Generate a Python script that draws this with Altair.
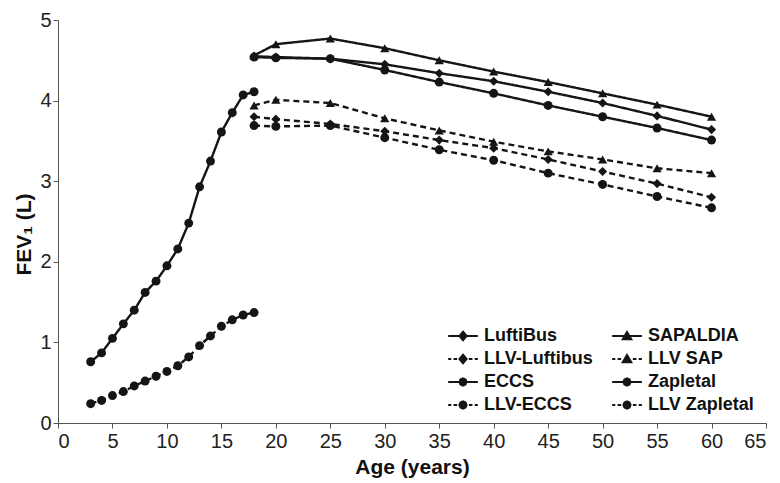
import altair as alt
import pandas as pd

# Child reference (Zapletal) ages and adult reference ages
child_ages = list(range(3, 19))
adult_ages = [18, 20, 25, 30, 35, 40, 45, 50, 55, 60]

# FEV1 (L) by series
zapletal = [0.76, 0.87, 1.05, 1.23, 1.40, 1.62, 1.76, 1.95, 2.16, 2.48, 2.93, 3.25, 3.61, 3.85, 4.07, 4.11]
llv_zapletal = [0.24, 0.28, 0.34, 0.39, 0.46, 0.52, 0.58, 0.64, 0.71, 0.82, 0.96, 1.08, 1.20, 1.28, 1.34, 1.37]
sapaldia = [4.56, 4.70, 4.77, 4.65, 4.50, 4.36, 4.23, 4.09, 3.95, 3.80]
luftibus = [4.55, 4.54, 4.52, 4.45, 4.34, 4.24, 4.11, 3.97, 3.81, 3.64]
eccs = [4.54, 4.53, 4.52, 4.38, 4.23, 4.09, 3.94, 3.80, 3.66, 3.51]
llv_sap = [3.94, 4.01, 3.97, 3.78, 3.63, 3.49, 3.37, 3.27, 3.16, 3.10]
llv_luftibus = [3.80, 3.77, 3.71, 3.62, 3.51, 3.41, 3.27, 3.12, 2.97, 2.80]
llv_eccs = [3.69, 3.68, 3.69, 3.54, 3.39, 3.26, 3.10, 2.96, 2.81, 2.67]

# name, ages, values, marker, line style (also the legend order, filled column by column)
series = [
    ("LuftiBus", adult_ages, luftibus, "diamond", "solid"),
    ("LLV-Luftibus", adult_ages, llv_luftibus, "diamond", "dashed"),
    ("ECCS", adult_ages, eccs, "circle", "solid"),
    ("LLV-ECCS", adult_ages, llv_eccs, "circle", "dashed"),
    ("SAPALDIA", adult_ages, sapaldia, "triangle-up", "solid"),
    ("LLV SAP", adult_ages, llv_sap, "triangle-up", "dashed"),
    ("Zapletal", child_ages, zapletal, "circle", "solid"),
    ("LLV Zapletal", child_ages, llv_zapletal, "circle", "dashed"),
]

rows = []
for name, ages, vals, marker, style in series:
    for a, v in zip(ages, vals):
        rows.append({"age": a, "fev": v, "series": name, "marker": marker, "style": style})
df = pd.DataFrame(rows)

INK = "#151515"
FONT = "Liberation Sans"


def nested(outline, scales):
    """Repeat a closed outline at shrinking scales so a stroked symbol reads as solid."""
    parts = []
    for s in scales:
        pts = [(x * s, y * s) for x, y in outline]
        parts.append("M" + "L".join(f"{x:.2f},{y:.2f}" for x, y in pts) + "Z")
    return "".join(parts)


# legend symbols: a short line (solid or dashed) with the marker in the middle
marker_paths = {
    "diamond": nested([(0, -0.95), (0.8, 0), (0, 0.95), (-0.8, 0)], [1, 0.6, 0.25]),
    "triangle-up": nested([(0, -0.9), (0.95, 0.7), (-0.95, 0.7)], [1, 0.6, 0.25]),
    "circle": nested([(0.8, 0), (0.57, 0.57), (0, 0.8), (-0.57, 0.57), (-0.8, 0),
                      (-0.57, -0.57), (0, -0.8), (0.57, -0.57)], [1, 0.6, 0.25]),
}
line_paths = {
    "solid": "M-3.3,0L3.3,0",
    "dashed": "M-3.3,0L-2.6,0M-2.1,0L-1.3,0M1.3,0L2.1,0M2.6,0L3.3,0",
}
legend_order = [s[0] for s in series]
legend_paths = [line_paths[s[4]] + marker_paths[s[3]] for s in series]

x_enc = alt.X(
    "age:Q",
    scale=alt.Scale(domain=[0, 65], nice=False),
    axis=alt.Axis(values=list(range(0, 66, 5)), title="Age (years)", grid=False,
                  labelFontSize=20, labelFont=FONT, labelColor="#222", labelPadding=3,
                  tickSize=5, tickColor="#555", domainColor="#555",
                  titleFont=FONT, titleFontSize=21, titleFontWeight="bold",
                  titleColor="#111", titlePadding=5),
)
y_enc = alt.Y(
    "fev:Q",
    scale=alt.Scale(domain=[0, 5], nice=False),
    axis=alt.Axis(values=[0, 1, 2, 3, 4, 5], format="d", title="FEV₁ (L)", grid=False,
                  labelFontSize=20, labelFont=FONT, labelColor="#222", labelPadding=2,
                  tickSize=5, tickColor="#555", domainColor="#555",
                  titleFont=FONT, titleFontSize=21, titleFontWeight="bold",
                  titleColor="#111", titlePadding=5, titleY=214),
)

lines = alt.Chart(df).mark_line(color=INK, strokeWidth=2.4).encode(
    x=x_enc, y=y_enc,
    detail="series:N",
    strokeDash=alt.StrokeDash("style:N", scale=alt.Scale(domain=["solid", "dashed"],
                                                         range=[[1, 0], [6, 4]]), legend=None),
)

points = alt.Chart(df).mark_point(filled=True, color=INK, opacity=1).encode(
    x="age:Q", y="fev:Q",
    shape=alt.Shape("marker:N", scale=None),
    size=alt.Size("marker:N", scale=alt.Scale(domain=["circle", "diamond", "triangle-up"],
                                               range=[80, 85, 90]), legend=None),
)

legend_layer = alt.Chart(df).mark_point(filled=False, color=INK, opacity=0, strokeWidth=2).encode(
    x="age:Q", y="fev:Q",
    shape=alt.Shape("series:N", scale=alt.Scale(domain=legend_order, range=legend_paths),
                    legend=alt.Legend(title=None, orient="none", legendX=396, legendY=307,
                                      columns=2, columnPadding=15, rowPadding=5,
                                      symbolSize=81, symbolStrokeWidth=2,
                                      symbolStrokeColor=INK, symbolOpacity=1,
                                      labelFont=FONT, labelFontSize=18,
                                      labelFontWeight="bold", labelColor="#111",
                                      labelOffset=12, padding=0)),
)

chart = alt.layer(lines, points, legend_layer).resolve_scale(
    shape="independent", size="independent", strokeDash="independent"
).properties(
    width=708, height=403,
    padding={"left": 58, "top": 20, "right": 14, "bottom": 60},
    autosize=alt.AutoSizeParams(type="none"),
    background="white",
).configure_view(stroke=None)

chart.save("out.html", embed_options={"renderer": "svg", "actions": False})
